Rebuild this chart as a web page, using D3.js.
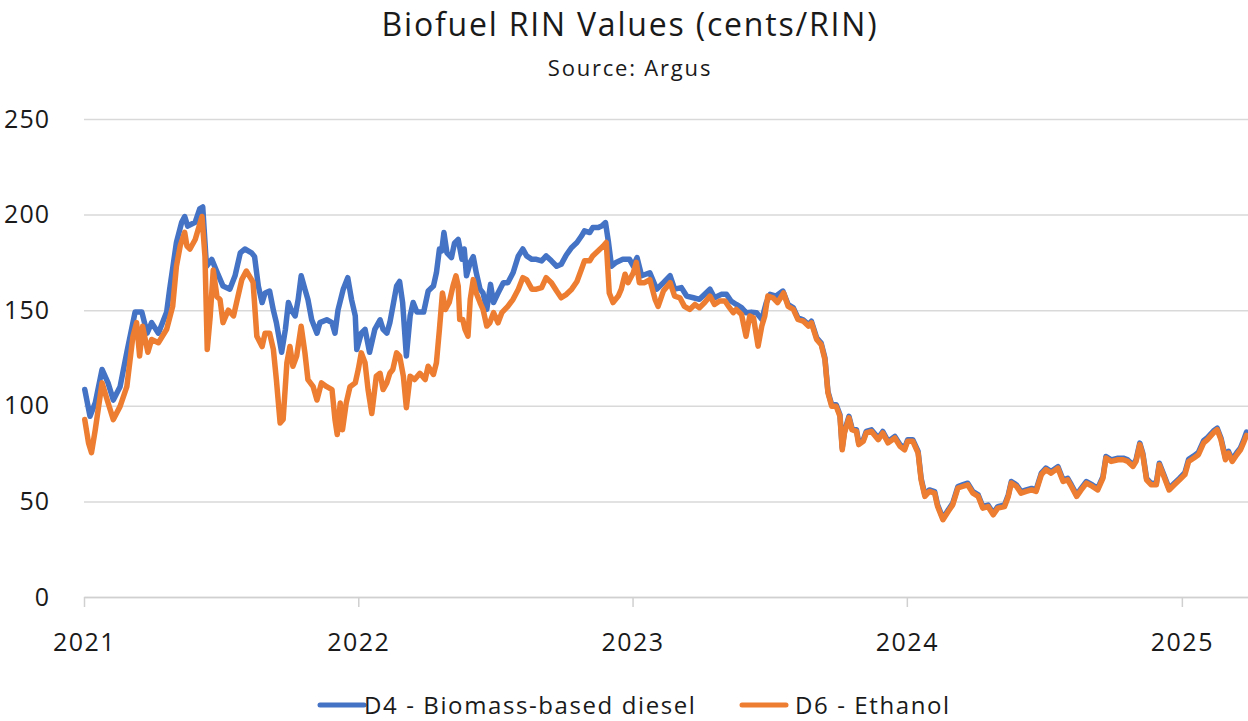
<!DOCTYPE html>
<html>
<head>
<meta charset="utf-8">
<script src="https://cdn.jsdelivr.net/npm/d3@7"></script>
<style>
  body { margin: 0; background: #fff; }
  svg text { font-family: "Open Sans", "Noto Sans", sans-serif; fill: #1a1a1a; }
</style>
</head>
<body>
<div id="chart"></div>
<script>
// Values: [decimal year, cents/RIN]
const d4Points = [
  [2021.004, 108.5], [2021.022, 94.5], [2021.040, 101.6], [2021.065, 119], [2021.088, 112],
  [2021.106, 103], [2021.131, 110], [2021.156, 128], [2021.186, 149], [2021.210, 149],
  [2021.229, 138], [2021.247, 143.5], [2021.271, 138], [2021.301, 149], [2021.313, 161],
  [2021.338, 185.5], [2021.356, 196], [2021.368, 199], [2021.379, 194], [2021.405, 196],
  [2021.423, 203], [2021.434, 204], [2021.447, 173], [2021.465, 176.6], [2021.484, 170],
  [2021.507, 162.6], [2021.532, 161], [2021.550, 168], [2021.569, 180], [2021.587, 182],
  [2021.611, 180], [2021.623, 178], [2021.635, 162.6], [2021.648, 154], [2021.660, 159],
  [2021.678, 160], [2021.690, 150], [2021.702, 143.5], [2021.721, 128], [2021.733, 140],
  [2021.745, 154], [2021.757, 150], [2021.769, 147], [2021.781, 155.6], [2021.793, 168],
  [2021.805, 161], [2021.817, 155.6], [2021.830, 145], [2021.848, 138], [2021.860, 143.5],
  [2021.885, 145], [2021.903, 143.5], [2021.915, 138], [2021.927, 150], [2021.945, 161],
  [2021.963, 167], [2021.976, 155.6], [2021.988, 147], [2021.994, 129.5], [2022.012, 138],
  [2022.024, 140], [2022.042, 128], [2022.061, 140], [2022.079, 145], [2022.091, 140],
  [2022.103, 138], [2022.115, 143.5], [2022.127, 152], [2022.140, 162.6], [2022.152, 165],
  [2022.162, 154], [2022.176, 126], [2022.188, 147], [2022.200, 154], [2022.213, 149],
  [2022.237, 149], [2022.255, 160], [2022.273, 162.6], [2022.285, 169.6], [2022.295, 182],
  [2022.304, 181], [2022.312, 190.6], [2022.322, 180], [2022.340, 177.5], [2022.352, 185],
  [2022.364, 187], [2022.377, 176.6], [2022.386, 182], [2022.395, 168], [2022.407, 175],
  [2022.419, 178], [2022.431, 169.6], [2022.443, 161], [2022.455, 159], [2022.468, 150.4],
  [2022.482, 163.5], [2022.492, 154], [2022.510, 159], [2022.528, 164.4], [2022.546, 164.4],
  [2022.565, 169.6], [2022.583, 178.4], [2022.601, 182], [2022.613, 178.4], [2022.632, 176.6],
  [2022.650, 176.6], [2022.668, 175.8], [2022.686, 178.4], [2022.704, 175.8], [2022.723, 173],
  [2022.741, 174], [2022.759, 179], [2022.777, 182.8], [2022.796, 185.4], [2022.814, 188.8],
  [2022.826, 191.5], [2022.844, 190.6], [2022.856, 193.2], [2022.874, 193.2], [2022.887, 194],
  [2022.901, 195.8], [2022.911, 185.4], [2022.923, 173], [2022.941, 175], [2022.965, 176.6],
  [2022.990, 176.6], [2023.002, 173], [2023.016, 177.5], [2023.032, 168], [2023.063, 169.6],
  [2023.087, 161], [2023.111, 164.4], [2023.136, 168], [2023.154, 161], [2023.178, 161.8],
  [2023.196, 157.4], [2023.221, 156.5], [2023.245, 155.7], [2023.263, 158.3], [2023.281, 161],
  [2023.300, 156.5], [2023.324, 158.3], [2023.342, 158.3], [2023.360, 154.8], [2023.379, 153],
  [2023.397, 151.3], [2023.415, 148.7], [2023.433, 149], [2023.452, 148.7], [2023.470, 145.2],
  [2023.488, 154], [2023.500, 158.3], [2023.524, 157.4], [2023.549, 160], [2023.567, 153],
  [2023.585, 151.2], [2023.603, 146], [2023.621, 145], [2023.640, 142.5], [2023.652, 144.2],
  [2023.670, 135.5], [2023.688, 132.8], [2023.700, 125], [2023.713, 107.5], [2023.725, 100.5],
  [2023.743, 100.5], [2023.755, 95.3], [2023.765, 78], [2023.773, 86.6], [2023.789, 94.5],
  [2023.801, 88.3], [2023.816, 87.4], [2023.826, 80.5], [2023.840, 82.2], [2023.852, 86.6],
  [2023.871, 87.4], [2023.895, 83.1], [2023.913, 86.6], [2023.931, 81.4], [2023.956, 84],
  [2023.974, 79.6], [2023.992, 77.8], [2024.004, 82.2], [2024.022, 82.2], [2024.040, 76.1],
  [2024.053, 62.1], [2024.065, 53.4], [2024.083, 56], [2024.101, 55.1], [2024.113, 48.1],
  [2024.132, 41.2], [2024.150, 45.5], [2024.168, 49], [2024.186, 57.8], [2024.204, 58.6],
  [2024.223, 59.5], [2024.241, 55.1], [2024.259, 53.4], [2024.277, 47.3], [2024.296, 48.1],
  [2024.314, 43.8], [2024.332, 47.3], [2024.356, 48.1], [2024.369, 53.4], [2024.381, 60.4],
  [2024.399, 58.6], [2024.417, 55.1], [2024.436, 56], [2024.454, 56.8], [2024.472, 56],
  [2024.490, 64.8], [2024.508, 67.4], [2024.527, 65.6], [2024.551, 68.2], [2024.569, 61.2],
  [2024.587, 62.1], [2024.600, 58.6], [2024.618, 53.4], [2024.636, 56.8], [2024.654, 60.4],
  [2024.678, 58.6], [2024.696, 56.8], [2024.715, 63], [2024.727, 73.5], [2024.745, 71.7],
  [2024.769, 72.6], [2024.788, 72.6], [2024.806, 71.7], [2024.824, 69.1], [2024.836, 71.7],
  [2024.848, 80.5], [2024.860, 75.2], [2024.873, 62.1], [2024.891, 59.5], [2024.909, 59.5],
  [2024.921, 70], [2024.936, 63.9], [2024.955, 56.8], [2024.976, 59.5], [2024.994, 62.1],
  [2025.012, 65], [2025.024, 72], [2025.043, 73.8], [2025.061, 75.6], [2025.079, 81.8],
  [2025.092, 83.4], [2025.116, 86.8], [2025.130, 88.3], [2025.143, 83.2], [2025.158, 72.8],
  [2025.170, 76.2], [2025.183, 71.9], [2025.201, 75.5], [2025.213, 78], [2025.225, 81.8],
  [2025.236, 86.2]
];

const d6Points = [
  [2021.004, 92.8], [2021.016, 80.6], [2021.028, 75.5], [2021.040, 87.5], [2021.065, 112],
  [2021.088, 101.6], [2021.106, 92.8], [2021.131, 99.7], [2021.156, 110], [2021.179, 136],
  [2021.192, 143.5], [2021.204, 126], [2021.215, 141.6], [2021.233, 128], [2021.247, 134.7],
  [2021.271, 133], [2021.301, 140], [2021.324, 152], [2021.338, 173], [2021.350, 183.6],
  [2021.368, 190.7], [2021.374, 183.6], [2021.386, 182], [2021.405, 187], [2021.429, 199],
  [2021.441, 178], [2021.449, 129.5], [2021.459, 147], [2021.471, 171], [2021.484, 157],
  [2021.496, 155.6], [2021.508, 143.5], [2021.526, 150], [2021.544, 147], [2021.557, 154],
  [2021.575, 166], [2021.593, 170.5], [2021.611, 166], [2021.617, 164.6], [2021.629, 136.4],
  [2021.648, 131], [2021.660, 138], [2021.678, 138], [2021.690, 129.5], [2021.702, 113.7],
  [2021.714, 91], [2021.726, 92.8], [2021.739, 122.5], [2021.751, 131], [2021.763, 120.7],
  [2021.775, 126], [2021.793, 141.6], [2021.805, 127.7], [2021.817, 113.7], [2021.836, 110],
  [2021.848, 103], [2021.866, 112], [2021.885, 110], [2021.903, 108.5], [2021.915, 92.8],
  [2021.923, 85], [2021.933, 101.5], [2021.943, 87.5], [2021.957, 101.5], [2021.969, 110],
  [2021.988, 112], [2022.000, 119], [2022.012, 127.7], [2022.024, 122.5], [2022.036, 108.5],
  [2022.049, 96], [2022.067, 115.5], [2022.079, 117], [2022.091, 108.5], [2022.103, 112],
  [2022.115, 117], [2022.127, 119], [2022.140, 127.7], [2022.152, 126], [2022.164, 115.5],
  [2022.174, 99], [2022.188, 115.5], [2022.206, 113.7], [2022.225, 117], [2022.243, 113.7],
  [2022.255, 120.7], [2022.273, 116.4], [2022.285, 122.5], [2022.297, 140], [2022.307, 159],
  [2022.319, 150.4], [2022.331, 154], [2022.346, 162.6], [2022.356, 168], [2022.364, 162.6],
  [2022.370, 145.2], [2022.382, 145.2], [2022.389, 140], [2022.401, 136.4], [2022.407, 155.7],
  [2022.419, 166], [2022.431, 159], [2022.443, 154], [2022.455, 150.4], [2022.468, 141.7],
  [2022.480, 143.4], [2022.492, 148.7], [2022.510, 143.4], [2022.522, 148.7], [2022.546, 152],
  [2022.565, 155.7], [2022.583, 161], [2022.601, 167], [2022.613, 166], [2022.632, 161],
  [2022.650, 161], [2022.668, 161.8], [2022.686, 167], [2022.704, 164.4], [2022.723, 160],
  [2022.741, 156.5], [2022.759, 158.3], [2022.777, 161], [2022.796, 165], [2022.814, 171.4],
  [2022.826, 175.8], [2022.844, 175.8], [2022.856, 178.4], [2022.874, 181], [2022.893, 183.6],
  [2022.905, 185.4], [2022.914, 159], [2022.929, 154], [2022.947, 157.4], [2022.960, 161],
  [2022.972, 168.8], [2022.984, 164.4], [2023.002, 169.6], [2023.014, 175], [2023.026, 164.4],
  [2023.045, 164.4], [2023.063, 166], [2023.081, 155.7], [2023.093, 152], [2023.111, 160],
  [2023.136, 164.4], [2023.154, 157.4], [2023.172, 156.5], [2023.190, 152], [2023.209, 150.4],
  [2023.227, 153], [2023.245, 151.3], [2023.263, 154], [2023.281, 157.4], [2023.300, 153],
  [2023.318, 154.8], [2023.336, 154.8], [2023.354, 151.3], [2023.366, 148.7], [2023.379, 150.4],
  [2023.397, 147.8], [2023.415, 136.4], [2023.427, 147], [2023.442, 146], [2023.457, 131.2],
  [2023.470, 141.7], [2023.482, 147], [2023.494, 157.4], [2023.512, 156.5], [2023.530, 154],
  [2023.551, 159], [2023.567, 152], [2023.585, 150.4], [2023.603, 145.2], [2023.621, 144.3],
  [2023.640, 141.7], [2023.652, 143.4], [2023.670, 134.7], [2023.688, 132], [2023.700, 124.2],
  [2023.713, 106.8], [2023.725, 99.7], [2023.743, 99.7], [2023.755, 94.5], [2023.765, 77],
  [2023.773, 85.8], [2023.789, 93.7], [2023.801, 87.5], [2023.816, 86.6], [2023.826, 79.7],
  [2023.840, 81.4], [2023.852, 85.8], [2023.871, 86.6], [2023.895, 82.3], [2023.913, 85.8],
  [2023.931, 80.6], [2023.956, 83.2], [2023.974, 78.8], [2023.992, 77], [2024.004, 81.4],
  [2024.022, 81.4], [2024.040, 75.3], [2024.053, 61.3], [2024.065, 52.6], [2024.083, 55.2],
  [2024.101, 54.3], [2024.113, 47.3], [2024.132, 40.4], [2024.150, 44.7], [2024.168, 48.2],
  [2024.186, 57], [2024.204, 57.8], [2024.223, 58.7], [2024.241, 54.3], [2024.259, 52.6],
  [2024.277, 46.5], [2024.296, 47.3], [2024.314, 43], [2024.332, 46.5], [2024.356, 47.3],
  [2024.369, 52.6], [2024.381, 59.6], [2024.399, 57.8], [2024.417, 54.3], [2024.436, 55.2],
  [2024.454, 56], [2024.472, 55.2], [2024.490, 64], [2024.508, 66.6], [2024.527, 64.8],
  [2024.551, 67.4], [2024.569, 60.4], [2024.587, 61.3], [2024.600, 57.8], [2024.618, 52.6],
  [2024.636, 56], [2024.654, 59.6], [2024.678, 57.8], [2024.696, 56], [2024.715, 62.2],
  [2024.727, 72.7], [2024.745, 70.9], [2024.769, 71.8], [2024.788, 71.8], [2024.806, 70.9],
  [2024.824, 68.3], [2024.836, 70.9], [2024.848, 79.7], [2024.860, 74.4], [2024.873, 61.3],
  [2024.891, 58.7], [2024.909, 58.7], [2024.921, 69.2], [2024.936, 63.1], [2024.955, 56],
  [2024.976, 58.7], [2024.994, 61.3], [2025.012, 64], [2025.024, 70.9], [2025.043, 72.7],
  [2025.061, 74.4], [2025.079, 80.6], [2025.092, 82.3], [2025.116, 85.8], [2025.130, 87.5],
  [2025.143, 82.3], [2025.158, 71.8], [2025.170, 75.3], [2025.183, 70.9], [2025.201, 74.4],
  [2025.213, 77], [2025.225, 80.6], [2025.235, 84.5]
];

const seriesNames = ["D4 - Biomass-based diesel", "D6 - Ethanol"];
const seriesColors = ["#4472C4", "#ED7D31"];
const yTicks = [0, 50, 100, 150, 200, 250];
const xStart = new Date(2021, 0, 1);
const xEnd = new Date(2025, 2, 30);

const width = 1248, height = 721;
const margin = { top: 119, right: 0, bottom: 124, left: 84 };

// decimal year -> Date
const toDate = t => {
  const yr = Math.floor(t);
  return new Date(yr, 0, 1 + Math.round((t - yr) * 365));
};

const svg = d3.select("#chart").append("svg")
  .attr("width", width)
  .attr("height", height);

const x = d3.scaleTime()
  .domain([xStart, xEnd])
  .range([margin.left, width - margin.right]);

const y = d3.scaleLinear()
  .domain([0, 250])
  .range([height - margin.bottom, margin.top]);

// Title
svg.append("text")
  .attr("x", 630).attr("y", 36)
  .attr("text-anchor", "middle")
  .style("font-size", "32px")
  .style("letter-spacing", "1.8px")
  .text("Biofuel RIN Values (cents/RIN)");

svg.append("text")
  .attr("x", 630).attr("y", 76)
  .attr("text-anchor", "middle")
  .style("font-size", "22px")
  .style("letter-spacing", "1.8px")
  .text("Source: Argus");

// Gridlines + y labels
svg.append("g")
  .attr("transform", `translate(${margin.left},0)`)
  .call(d3.axisLeft(y).tickValues(yTicks).tickSize(-(width - margin.left - margin.right)).tickPadding(34))
  .call(g => g.select(".domain").remove())
  .call(g => g.selectAll(".tick line").attr("stroke", "#d9d9d9").attr("stroke-width", 1.5))
  .call(g => g.selectAll(".tick text")
    .style("font-size", "25px")
    .style("letter-spacing", "1px")
    .attr("font-family", null)
    .attr("fill", "#1a1a1a"));

// x axis
svg.append("g")
  .attr("transform", `translate(0,${height - margin.bottom})`)
  .call(d3.axisBottom(x).ticks(d3.timeYear.every(1)).tickFormat(d3.timeFormat("%Y")).tickSize(10).tickPadding(26).tickSizeOuter(0))
  .call(g => g.select(".domain").attr("stroke", "#d0d0d0").attr("stroke-width", 1.5))
  .call(g => g.selectAll(".tick line").attr("stroke", "#d0d0d0").attr("stroke-width", 1.5))
  .call(g => g.selectAll(".tick text")
    .style("font-size", "25px")
    .style("letter-spacing", "1.5px")
    .attr("font-family", null)
    .attr("fill", "#1a1a1a"));

const line = d3.line()
  .x(d => x(toDate(d[0])))
  .y(d => y(d[1]));

[d4Points, d6Points].forEach((pts, i) => {
  svg.append("path")
    .datum(pts)
    .attr("fill", "none")
    .attr("stroke", seriesColors[i])
    .attr("stroke-width", 5.5)
    .attr("stroke-linejoin", "round")
    .attr("stroke-linecap", "round")
    .attr("d", line);
});

// Legend
const legendX = [320, 742];
seriesNames.forEach((name, i) => {
  const g = svg.append("g").attr("transform", `translate(${legendX[i]},705)`);
  g.append("line")
    .attr("x1", 0).attr("x2", 44)
    .attr("stroke", seriesColors[i])
    .attr("stroke-width", 5)
    .attr("stroke-linecap", "round");
  g.append("text")
    .attr("x", i === 0 ? 44 : 53).attr("y", 9)
    .style("font-size", "24px")
    .style("letter-spacing", "1.6px")
    .text(name);
});
</script>
</body>
</html>
